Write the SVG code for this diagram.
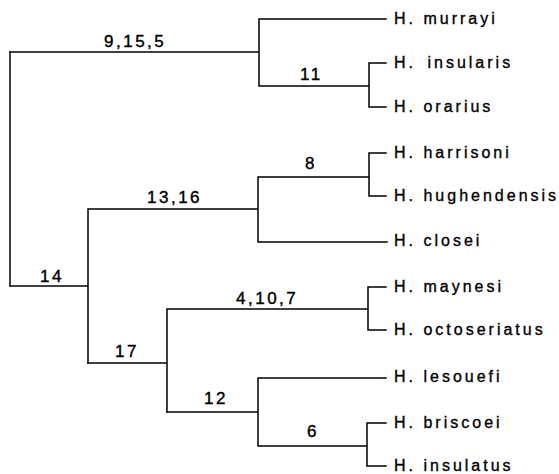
<svg xmlns="http://www.w3.org/2000/svg" width="559" height="474" viewBox="0 0 559 474">
<style>
.tree{fill:none;stroke:#000;stroke-width:1.5;stroke-linecap:square}
.leaf{font-family:"Liberation Sans",Arial,Helvetica,sans-serif;font-size:16px;letter-spacing:3px;fill:#000;stroke:#000;stroke-width:0.35}
.lab{font-family:"Liberation Sans",Arial,Helvetica,sans-serif;font-size:17px;letter-spacing:2.5px;fill:#000;stroke:#000;stroke-width:0.4}
</style>
<rect width="559" height="474" fill="#fff"/>
<g id="connectors" class="tree">
<path d="M10,52 V286"/>
<path d="M10,52 H259 M259,19 V86 M259,19 H386 M259,86 H369 M369,63 V107 M369,63 H386 M369,107 H386"/>
<path d="M10,286 H88 M88,209 V363 M88,209 H258 M258,177 V242 M258,177 H369 M369,153 V196 M369,153 H386 M369,196 H386 M258,242 H387"/>
<path d="M88,363 H167 M167,309 V412 M167,309 H368 M368,287 V330 M368,287 H386 M368,330 H386"/>
<path d="M167,412 H258 M258,378 V446 M258,378 H386 M258,446 H367 M367,423 V466 M367,423 H386 M367,466 H386"/>
</g>
<g id="leaf-murrayi"><text class="leaf" x="394" y="24">H. murrayi</text></g>
<g id="leaf-insularis"><text class="leaf" x="394" y="68" word-spacing="4">H. insularis</text></g>
<g id="leaf-orarius"><text class="leaf" x="394" y="112">H. orarius</text></g>
<g id="leaf-harrisoni"><text class="leaf" x="394" y="158">H. harrisoni</text></g>
<g id="leaf-hughendensis"><text class="leaf" x="394" y="201">H. hughendensis</text></g>
<g id="leaf-closei"><text class="leaf" x="394" y="246">H. closei</text></g>
<g id="leaf-maynesi"><text class="leaf" x="394" y="292">H. maynesi</text></g>
<g id="leaf-octoseriatus"><text class="leaf" x="394" y="335">H. octoseriatus</text></g>
<g id="leaf-lesouefi"><text class="leaf" x="394" y="382">H. lesouefi</text></g>
<g id="leaf-briscoei"><text class="leaf" x="394" y="428">H. briscoei</text></g>
<g id="leaf-insulatus"><text class="leaf" x="394" y="471">H. insulatus</text></g>
<g id="label-9-15-5"><text class="lab" x="104" y="47">9,15,5</text></g>
<g id="label-11"><text class="lab" x="300" y="80">11</text></g>
<g id="label-8"><text class="lab" x="311" y="169" text-anchor="middle" letter-spacing="0">8</text></g>
<g id="label-13-16"><text class="lab" x="147" y="203">13,16</text></g>
<g id="label-14"><text class="lab" x="40" y="282">14</text></g>
<g id="label-4-10-7"><text class="lab" x="236" y="304">4,10,7</text></g>
<g id="label-17"><text class="lab" x="115" y="357">17</text></g>
<g id="label-12"><text class="lab" x="204" y="404">12</text></g>
<g id="label-6"><text class="lab" x="313" y="437" text-anchor="middle" letter-spacing="0">6</text></g>
</svg>
